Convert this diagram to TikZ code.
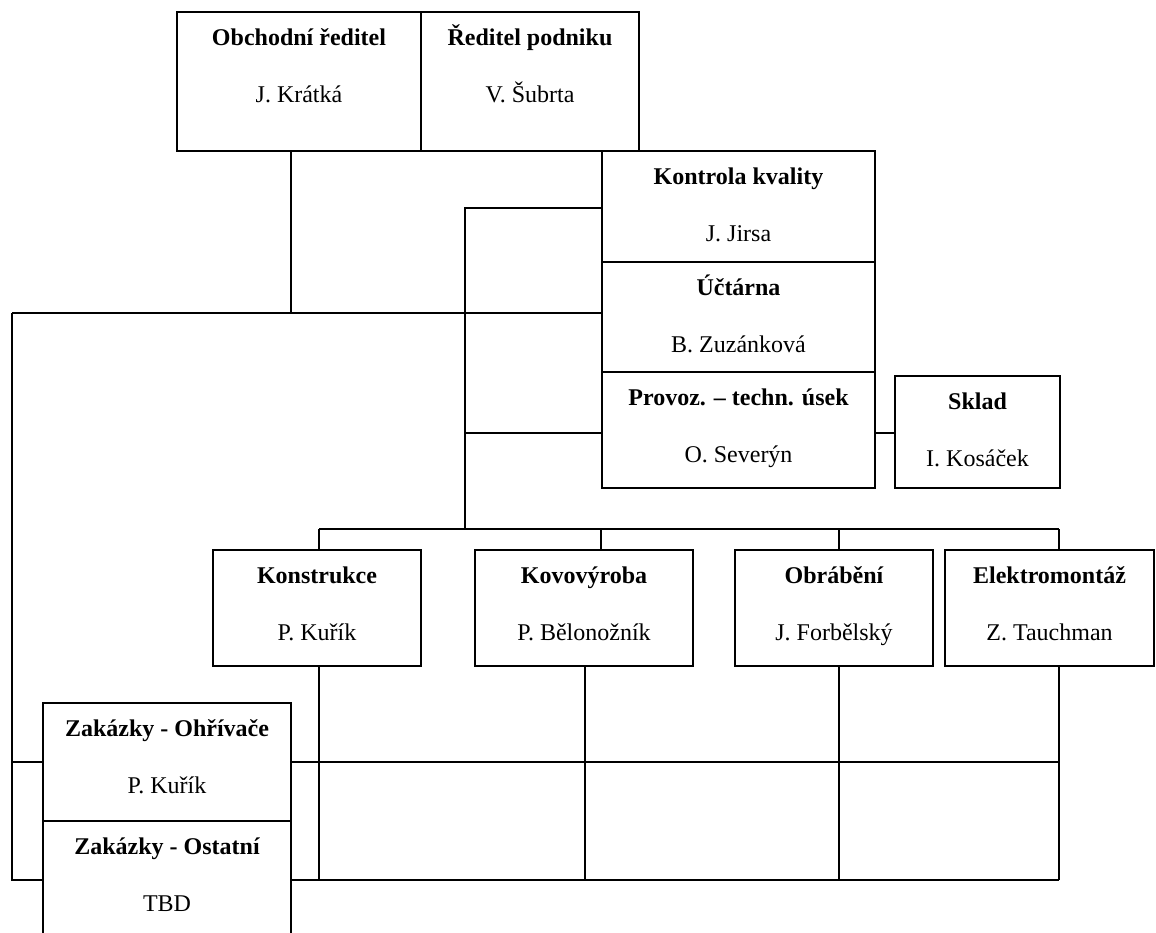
\documentclass[tikz,border=0pt]{standalone}
\usepackage{fontspec}
\setmainfont{Liberation Serif}
% box: name, x1, y1, x2, y2, title, person (coordinates in px, y downwards)
\newcommand\orgbox[7]{%
  \node[box, minimum width=#4pt-#2pt, minimum height=#5pt-#3pt] (#1) at ({(#2+#4)/2},{(#3+#5)/2}) {};
  \node[ttl, anchor=base] (#1t) at ({(#2+#4)/2},{#3+33}) {#6};
  \node[who, anchor=base] (#1p) at ({(#2+#4)/2},{#3+90}) {#7};}
\begin{document}
\begin{tikzpicture}[x=1pt,y=-1pt,
  box/.style={draw, line width=2.1pt, rectangle, inner sep=0pt, outer sep=0pt},
  ttl/.style={font=\fontsize{24}{28}\selectfont\bfseries, inner sep=0pt},
  who/.style={font=\fontsize{24}{28}\selectfont, inner sep=0pt},
  conn/.style={line width=1.7pt}]
\useasboundingbox (0,0) rectangle (1156,932);
\fill[white] (0,0) rectangle (1156,932);
\clip (0,0) rectangle (1156,932);

% management
\orgbox{ob}{177}{12}{421}{151}{Obchodní ředitel}{J. Krátká}
\orgbox{rp}{421}{12}{639}{151}{Ředitel podniku}{V. Šubrta}
% staff column
\orgbox{kk}{602}{151}{875}{262}{Kontrola kvality}{J. Jirsa}
\orgbox{uc}{602}{262}{875}{372}{Účtárna}{B. Zuzánková}
\orgbox{pt}{602}{372}{875}{488}{Provoz. – techn. úsek}{O. Severýn}
\orgbox{sk}{895}{376}{1060}{488}{Sklad}{I. Kosáček}
% departments
\orgbox{ko}{213}{550}{421}{666}{Konstrukce}{P. Kuřík}
\orgbox{kv}{475}{550}{693}{666}{Kovovýroba}{P. Bělonožník}
\orgbox{obr}{735}{550}{933}{666}{Obrábění}{J. Forbělský}
\orgbox{el}{945}{550}{1154}{666}{Elektromontáž}{Z. Tauchman}
% orders
\orgbox{zo}{43}{703}{291}{821}{Zakázky - Ohřívače}{P. Kuřík}
\orgbox{zs}{43}{821}{291}{945}{Zakázky - Ostatní}{TBD}

% junction points
\coordinate (jA) at (291,313);
\coordinate (jL) at (12,313);
\coordinate (jLb) at (12,880);
\coordinate (spT) at (465,208);
\coordinate (spM) at (465,433);
\coordinate (spB) at (465,529);
\coordinate (d1) at (319,529);
\coordinate (d2) at (601,529);
\coordinate (d3) at (839,529);
\coordinate (d4) at (1059,529);
\coordinate (u1) at (319,880);
\coordinate (u2) at (585,880);
\coordinate (u3) at (839,880);
\coordinate (u4) at (1059,880);
\coordinate (h4) at (1059,762);

% sales director to the left rail and accounting
\draw[conn] (ob.south -| jA) -- (jA);
\draw[conn] (jL) -- (uc.west |- jL);
% spine from quality control down to the department bus
\draw[conn] (kk.west |- spT) -- (spT) -- (spB);
\draw[conn] (spM) -- (pt.west |- spM);
\draw[conn] (pt.east |- spM) -- (sk.west |- spM);
% department bus
\draw[conn] (d1) -- (d4);
\draw[conn] (d1) -- (ko.north -| d1);
\draw[conn] (d2) -- (kv.north -| d2);
\draw[conn] (d3) -- (obr.north -| d3);
\draw[conn] (d4) -- (el.north -| d4);
% departments down to the order grid
\draw[conn] (ko.south -| u1) -- (u1);
\draw[conn] (kv.south -| u2) -- (u2);
\draw[conn] (obr.south -| u3) -- (u3);
\draw[conn] (el.south -| u4) -- (u4);
\draw[conn] (zo.east |- h4) -- (h4);
\draw[conn] (zs.east |- u4) -- (u4);
% left rail to the orders
\draw[conn] (jL) -- (jLb) -- (zs.west |- jLb);
\draw[conn] (zo.west -| jL) -- (zo.west);
\end{tikzpicture}
\end{document}
